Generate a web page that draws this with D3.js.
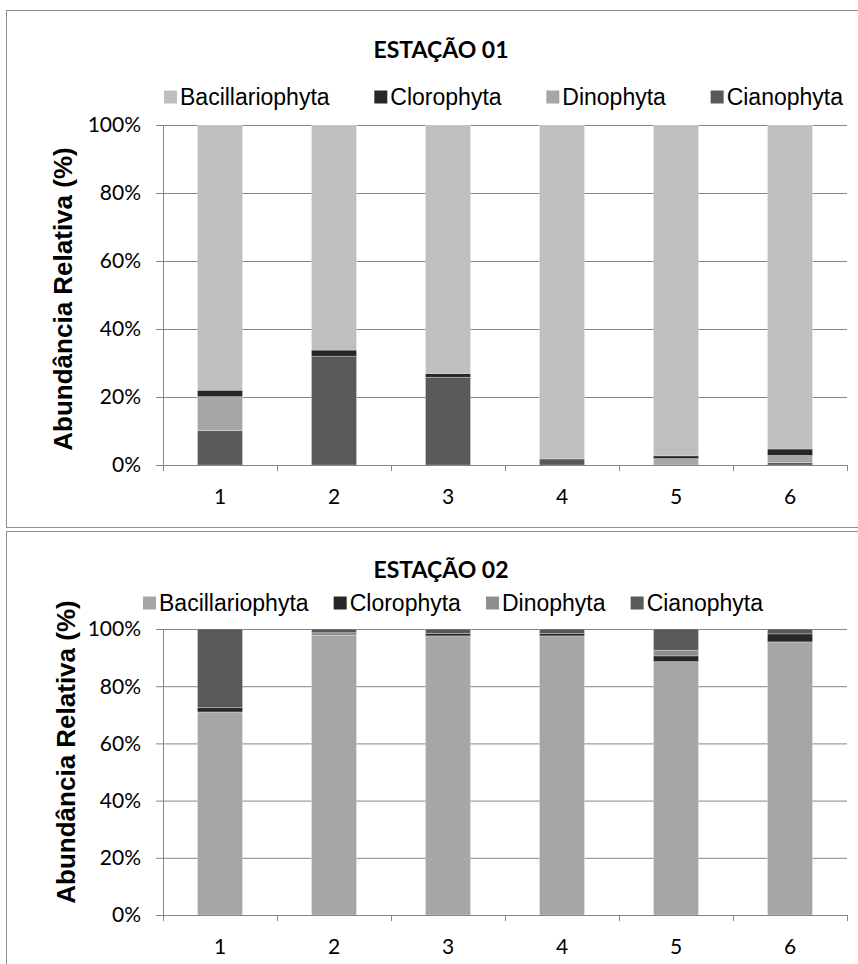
<!DOCTYPE html>
<html>
<head>
<meta charset="utf-8">
<script src="https://cdn.jsdelivr.net/npm/d3@7"></script>
<style>
  html, body { margin: 0; padding: 0; background: #fff; }
  svg { display: block; }
</style>
</head>
<body>
<svg id="chart" width="858" height="964"></svg>
<script>
// ---------- DATA ----------
const categories = ["1", "2", "3", "4", "5", "6"];
const seriesNames = ["Bacillariophyta", "Clorophyta", "Dinophyta", "Cianophyta"];
const yTickValues = [0, 20, 40, 60, 80, 100];

// Estação 01 (relative abundance, %)
const st1Bacillariophyta = [78.0, 66.2, 73.1, 98.2, 97.3, 95.3];
const st1Clorophyta      = [1.9, 1.8, 1.1, 0.0, 0.8, 1.9];
const st1Dinophyta       = [10.0, 0.0, 0.0, 0.0, 1.9, 2.1];
const st1Cianophyta      = [10.1, 32.0, 25.8, 1.8, 0.0, 0.7];

// Estação 02 (relative abundance, %)
const st2Bacillariophyta = [71.0, 97.7, 97.6, 97.6, 88.6, 95.5];
const st2Clorophyta      = [1.5, 0.0, 0.8, 0.8, 2.0, 2.8];
const st2Dinophyta       = [0.0, 1.0, 0.0, 0.0, 2.0, 0.0];
const st2Cianophyta      = [27.5, 1.3, 1.6, 1.6, 7.4, 1.7];

const title1 = "ESTAÇÃO 01";
const title2 = "ESTAÇÃO 02";
const yTitle = "Abundância Relativa (%)";

// ---------- DRAW ----------
const svg = d3.select("#chart");
const gridColor = "#868686";
const borderColor = "#8c8c8c";
const tickFont = "Lato, 'Open Sans', sans-serif";
const legendFont = "'Liberation Sans', Arial, sans-serif";

function buildRows(b, c, d, ci) {
  return categories.map((cat, i) => ({
    cat: cat,
    Bacillariophyta: b[i], Clorophyta: c[i], Dinophyta: d[i], Cianophyta: ci[i]
  }));
}

function drawPanel(cfg) {
  const g = svg.append("g");
  // panel border
  g.append("rect")
    .attr("x", cfg.panel.x + 0.5).attr("y", cfg.panel.y + 0.5)
    .attr("width", cfg.panel.w).attr("height", cfg.panel.h)
    .attr("fill", "#fff").attr("stroke", borderColor).attr("stroke-width", 1);

  const x = d3.scaleBand().domain(categories)
    .range([cfg.left, cfg.right]).paddingInner(0.605).paddingOuter(0.3025);
  const y = d3.scaleLinear().domain([0, 100]).range([cfg.bottom, cfg.top]);

  // gridlines (y axis with full-width ticks)
  const yAxis = d3.axisLeft(y).tickValues(yTickValues)
    .tickSize(-(cfg.right - cfg.left)).tickFormat("");
  const gy = g.append("g").attr("transform", `translate(${cfg.left},0)`).call(yAxis);
  gy.select(".domain").remove();
  gy.selectAll(".tick line").attr("stroke", gridColor).attr("stroke-width", 1)
    .attr("x1", -7).attr("x2", cfg.right - cfg.left);

  // y tick labels
  g.selectAll(".ylab").data(yTickValues).enter().append("text")
    .attr("x", cfg.left - 22).attr("y", d => y(d))
    .attr("dy", "0.35em").attr("text-anchor", "end")
    .attr("font-family", tickFont).attr("font-size", 21).attr("fill", "#000")
    .text(d => d + "%");

  // stacked bars
  const stack = d3.stack().keys(cfg.order);
  const layers = stack(cfg.rows);
  g.selectAll(".layer").data(layers).enter().append("g")
    .attr("fill", d => cfg.colors[d.key])
    .selectAll("rect").data(d => d).enter().append("rect")
    .attr("x", d => x(d.data.cat))
    .attr("width", x.bandwidth())
    .attr("y", d => y(d[1]))
    .attr("height", d => Math.max(0, y(d[0]) - y(d[1])))
    .attr("stroke", "#ffffff").attr("stroke-opacity", 0.35).attr("stroke-width", 0.8);

  // x axis line
  g.append("line").attr("x1", cfg.left).attr("x2", cfg.right)
    .attr("y1", cfg.bottom + 0.5).attr("y2", cfg.bottom + 0.5)
    .attr("stroke", gridColor).attr("stroke-width", 1);
  // y axis line
  g.append("line").attr("x1", cfg.left + 0.5).attr("x2", cfg.left + 0.5)
    .attr("y1", cfg.top).attr("y2", cfg.bottom)
    .attr("stroke", gridColor).attr("stroke-width", 1);
  // x ticks at category boundaries
  const boundaryPositions = d3.range(categories.length + 1).map(i => cfg.left + i * x.step());
  g.selectAll(".xtick").data(boundaryPositions).enter().append("line")
    .attr("x1", d => Math.round(d) + 0.5).attr("x2", d => Math.round(d) + 0.5)
    .attr("y1", cfg.bottom).attr("y2", cfg.bottom + 6)
    .attr("stroke", gridColor).attr("stroke-width", 1);

  // x labels
  g.selectAll(".xlab").data(categories).enter().append("text")
    .attr("x", d => x(d) + x.bandwidth() / 2).attr("y", cfg.xLabelY)
    .attr("dy", "0.35em").attr("text-anchor", "middle")
    .attr("font-family", tickFont).attr("font-size", 21).attr("fill", "#000")
    .text(d => d);

  // title
  g.append("text").attr("x", cfg.titleX).attr("y", cfg.titleY)
    .attr("dy", "0.35em").attr("text-anchor", "middle")
    .attr("font-family", tickFont).attr("font-weight", "bold")
    .attr("font-size", 23).attr("fill", "#000").text(cfg.title);

  // y axis title
  g.append("text")
    .attr("transform", `translate(${cfg.yTitleX},${cfg.yTitleY}) rotate(-90)`)
    .attr("dy", "0.35em").attr("text-anchor", "middle")
    .attr("font-family", legendFont).attr("font-weight", "bold")
    .attr("font-size", 26).attr("fill", "#000").text(yTitle);

  // legend
  const lg = g.append("g");
  const items = lg.selectAll(".li").data(seriesNames).enter().append("g");
  const sq = 13, sqGap = 3;
  items.append("rect").attr("width", sq).attr("height", sq)
    .attr("y", cfg.legendY - sq / 2).attr("fill", d => cfg.colors[d]);
  items.append("text").attr("x", sq + sqGap).attr("y", cfg.legendY)
    .attr("dy", "0.35em").attr("font-family", legendFont)
    .attr("font-size", cfg.legendSize).attr("fill", "#000").text(d => d);
  const widths = [];
  items.each(function () { widths.push(sq + sqGap + d3.select(this).select("text").node().getComputedTextLength()); });
  const total = d3.sum(widths);
  const gap = (cfg.legendEnd - cfg.legendStart - total) / (seriesNames.length - 1);
  let cx = cfg.legendStart;
  items.attr("transform", (d, i) => { const t = `translate(${cx},0)`; cx += widths[i] + gap; return t; });
}

drawPanel({
  panel: { x: 6, y: 10, w: 870, h: 517 },
  left: 163, right: 847, top: 125, bottom: 465,
  xLabelY: 497, titleX: 441, titleY: 50, yTitleX: 63, yTitleY: 299,
  legendY: 97, legendStart: 164, legendEnd: 843, legendSize: 23,
  title: title1,
  rows: buildRows(st1Bacillariophyta, st1Clorophyta, st1Dinophyta, st1Cianophyta),
  order: ["Cianophyta", "Dinophyta", "Clorophyta", "Bacillariophyta"],
  colors: { Bacillariophyta: "#bfbfbf", Clorophyta: "#262626", Dinophyta: "#a6a6a6", Cianophyta: "#595959" }
});

drawPanel({
  panel: { x: 6, y: 531, w: 870, h: 460 },
  left: 163, right: 847, top: 629, bottom: 915,
  xLabelY: 947, titleX: 441, titleY: 570, yTitleX: 66, yTitleY: 752,
  legendY: 603, legendStart: 143, legendEnd: 763, legendSize: 23,
  title: title2,
  rows: buildRows(st2Bacillariophyta, st2Clorophyta, st2Dinophyta, st2Cianophyta),
  order: ["Bacillariophyta", "Clorophyta", "Dinophyta", "Cianophyta"],
  colors: { Bacillariophyta: "#a6a6a6", Clorophyta: "#262626", Dinophyta: "#8e8e8e", Cianophyta: "#595959" }
});
</script>
</body>
</html>
